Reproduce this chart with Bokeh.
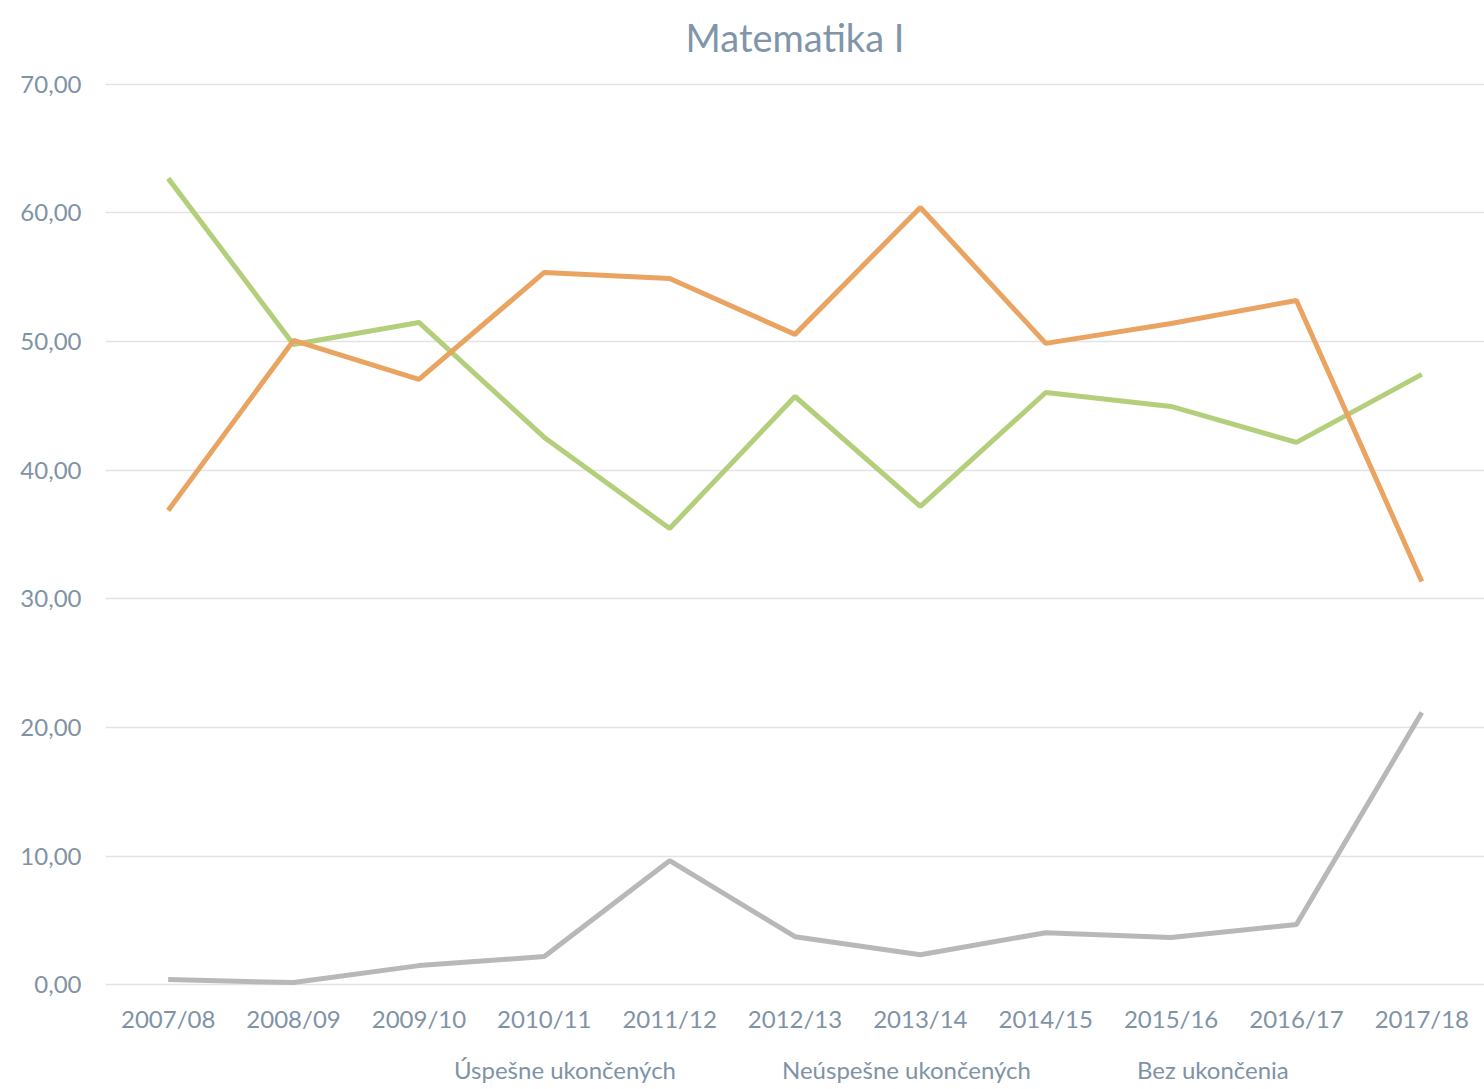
from bokeh.plotting import figure
from bokeh.models import Legend, LegendItem, FixedTicker, Range1d
from bokeh.layouts import column
from bokeh.embed import file_html
from bokeh.resources import INLINE

years = ["2007/08", "2008/09", "2009/10", "2010/11", "2011/12", "2012/13",
         "2013/14", "2014/15", "2015/16", "2016/17", "2017/18"]
uspesne = [62.69, 49.78, 51.49, 42.55, 35.47, 45.73, 37.18, 46.04, 44.96, 42.16, 47.45]
neuspesne = [36.87, 50.09, 47.06, 55.38, 54.91, 50.56, 60.43, 49.86, 51.41, 53.20, 31.35]
bez = [0.39, 0.16, 1.48, 2.18, 9.64, 3.73, 2.33, 4.04, 3.66, 4.67, 21.16]
y_ticks = [0, 10, 20, 30, 40, 50, 60, 70]
y_tick_labels = ["0,00", "10,00", "20,00", "30,00", "40,00", "50,00", "60,00", "70,00"]
series_names = ["Úspešne ukončených", "Neúspešne ukončených", "Bez ukončenia"]
series_colors = ["#b4cf7c", "#e9a462", "#b8b8b8"]

FONT = "Lato"
TXT = "#8093a6"

p = figure(x_range=years, y_range=Range1d(-1, 71),
           frame_width=1379, frame_height=926,
           output_backend="svg", toolbar_location=None,
           min_border_left=105, min_border_right=0, min_border_top=71, min_border_bottom=52,
           title="Matematika I")
p.x_range.range_padding = 0
p.outline_line_color = None
p.background_fill_color = "white"
p.border_fill_color = "white"

p.title.align = "center"
p.title.offset = -36
p.title.text_font = FONT
p.title.text_font_size = "38px"
p.title.text_font_style = "normal"
p.title.text_color = "#8095a9"
p.title.standoff = 23

p.xgrid.grid_line_color = None
p.ygrid.grid_line_color = "#e3e3e3"
p.ygrid.grid_line_width = 1.5
p.yaxis.ticker = FixedTicker(ticks=y_ticks)
p.yaxis.major_label_overrides = {t: l for t, l in zip(y_ticks, y_tick_labels)}

for ax in (p.xaxis, p.yaxis):
    ax.axis_line_color = None
    ax.major_tick_line_color = None
    ax.minor_tick_line_color = None
    ax.major_label_text_font = FONT
    ax.major_label_text_font_size = "24px"
    ax.major_label_text_color = TXT
p.yaxis.major_label_standoff = 18
p.xaxis.major_label_standoff = 0

for vals, col in zip([uspesne, neuspesne, bez], series_colors):
    p.line(years, vals, line_color=col, line_width=5)

# legend strip below the chart
lg = figure(width=1484, height=40, x_range=Range1d(0, 1), y_range=Range1d(0, 1),
            output_backend="svg", toolbar_location=None,
            min_border_left=0, min_border_right=0, min_border_top=0, min_border_bottom=0)
lg.axis.visible = False
lg.grid.grid_line_color = None
lg.outline_line_color = None
items = []
for name, col in zip(series_names, series_colors):
    r = lg.line(x=[], y=[], line_color=col, line_width=5)
    items.append(LegendItem(label=name, renderers=[r]))
legend = Legend(items=items, orientation="horizontal", location="left",
                glyph_width=55, glyph_height=10, label_standoff=3, spacing=48,
                label_text_font=FONT, label_text_font_size="24px", label_text_color=TXT,
                border_line_color=None, background_fill_alpha=0, padding=2, margin=291)
lg.add_layout(legend)

layout = column(p, lg, spacing=0)
open("out.html", "w").write(file_html(layout, INLINE))
